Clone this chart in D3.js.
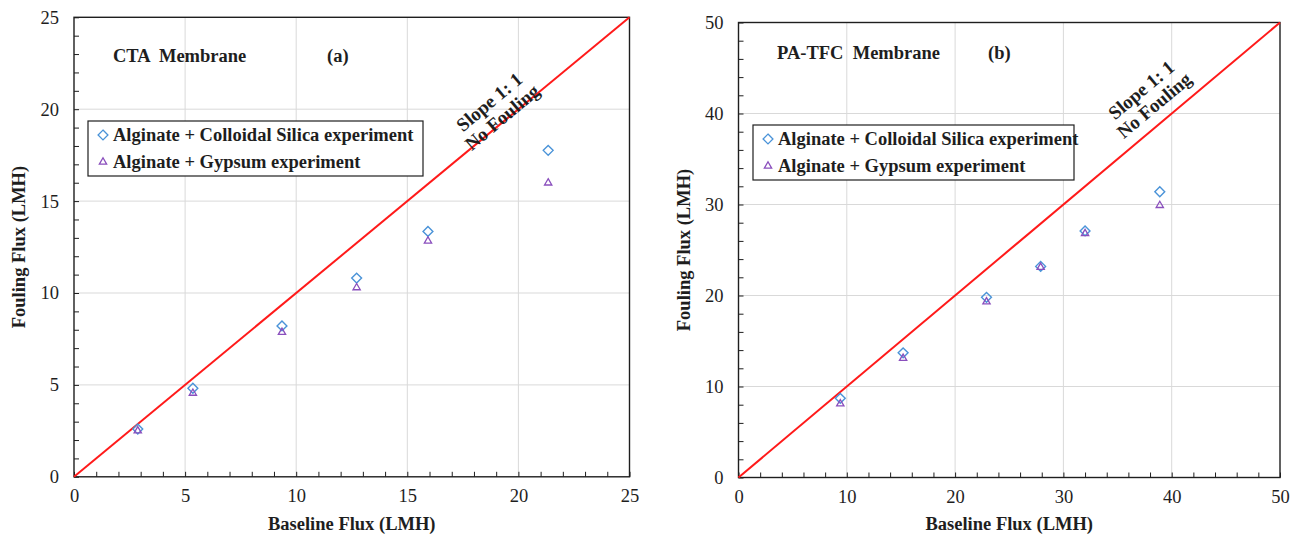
<!DOCTYPE html>
<html>
<head>
<meta charset="utf-8">
<script src="https://cdn.jsdelivr.net/npm/d3@7"></script>
<style>
  body { margin: 0; background: #fff; }
  svg, svg text { font-family: "Liberation Serif", "Times New Roman", serif; }
</style>
</head>
<body>
<svg></svg>
<script>
// panel (a) CTA membrane
const ctaBaseline = [2.87, 5.35, 9.36, 12.72, 15.93, 21.34];
const ctaSilica   = [2.60, 4.82, 8.21, 10.81, 13.35, 17.76];
const ctaGypsum   = [2.50, 4.55, 7.86, 10.29, 12.83, 15.99];

// panel (b) PA-TFC membrane
const tfcBaseline = [9.4, 15.2, 22.9, 27.9, 32.0, 38.9];
const tfcSilica   = [8.7, 13.7, 19.8, 23.2, 27.1, 31.4];
const tfcGypsum   = [8.1, 13.1, 19.3, 23.1, 26.8, 29.9];

const ctaTicks = [0, 5, 10, 15, 20, 25];
const tfcTicks = [0, 10, 20, 30, 40, 50];

const seriesNames = ['Alginate + Colloidal Silica experiment', 'Alginate + Gypsum experiment'];

const W = 1295, H = 538;
const blue = '#4a93d8';
const purple = '#8a4fbd';
const ink = '#1e1e1e';

const svg = d3.select('svg')
    .attr('width', W)
    .attr('height', H);

svg.append('rect').attr('width', W).attr('height', H).attr('fill', '#fff');

const diamond = d3.symbol().type(d3.symbolDiamond2).size(62);
const triangle = d3.symbol().type(d3.symbolTriangle2).size(38);

function drawPanel(p) {
  const x = d3.scaleLinear().domain([0, p.max]).range([p.left, p.right]);
  const y = d3.scaleLinear().domain([0, p.max]).range([p.bottom, p.top]);
  const g = svg.append('g');

  // grid
  g.selectAll('line.vgrid').data(p.ticks.slice(1, -1)).join('line')
      .attr('x1', d => x(d)).attr('x2', d => x(d))
      .attr('y1', p.top).attr('y2', p.bottom)
      .attr('stroke', '#d9d9d9').attr('stroke-width', 1);
  g.selectAll('line.hgrid').data(p.ticks.slice(1, -1)).join('line')
      .attr('y1', d => y(d)).attr('y2', d => y(d))
      .attr('x1', p.left).attr('x2', p.right)
      .attr('stroke', '#d9d9d9').attr('stroke-width', 1);

  // axes with inward ticks, minor ones unlabelled
  const minor = d3.range(0, p.max + 0.001, p.minor);
  const xAxis = d3.axisBottom(x).tickValues(minor).tickSizeInner(-5).tickSizeOuter(0)
      .tickFormat(d => p.ticks.includes(d) ? d : '').tickPadding(12);
  const yAxis = d3.axisLeft(y).tickValues(minor).tickSizeInner(-5).tickSizeOuter(0)
      .tickFormat(d => p.ticks.includes(d) ? d : '').tickPadding(15);

  const gx = g.append('g').attr('transform', `translate(0,${p.bottom})`).call(xAxis);
  const gy = g.append('g').attr('transform', `translate(${p.left},0)`).call(yAxis);
  [gx, gy].forEach(a => {
    a.attr('font-family', null).attr('font-size', null);
    a.select('.domain').remove();
    a.selectAll('line').attr('stroke', ink);
    a.selectAll('text')
        .style('font-family', '"Liberation Serif", serif')
        .style('font-size', '18.5px')
        .attr('fill', ink);
  });

  // frame
  g.append('rect')
      .attr('x', p.left).attr('y', p.top)
      .attr('width', p.right - p.left).attr('height', p.bottom - p.top)
      .attr('fill', 'none').attr('stroke', ink).attr('stroke-width', 1.4);

  // 1:1 line
  g.append('line')
      .attr('x1', x(0)).attr('y1', y(0))
      .attr('x2', x(p.max)).attr('y2', y(p.max))
      .attr('stroke', '#ff1a1a').attr('stroke-width', 2);

  // markers
  g.selectAll('path.silica').data(p.bx).join('path')
      .attr('d', diamond)
      .attr('transform', (d, i) => `translate(${x(d)},${y(p.silica[i])})`)
      .attr('fill', 'none').attr('stroke', blue).attr('stroke-width', 1.4);
  g.selectAll('path.gypsum').data(p.bx).join('path')
      .attr('d', triangle)
      .attr('transform', (d, i) => `translate(${x(d)},${y(p.gypsum[i])})`)
      .attr('fill', 'none').attr('stroke', purple).attr('stroke-width', 1.3);

  // axis titles
  g.append('text')
      .attr('x', (p.left + p.right) / 2).attr('y', 530)
      .attr('text-anchor', 'middle').attr('font-weight', 'bold').attr('font-size', 18.5)
      .attr('fill', ink)
      .text('Baseline Flux (LMH)');
  g.append('text')
      .attr('transform', `translate(${p.left - 49},${(p.top + p.bottom) / 2}) rotate(-90)`)
      .attr('text-anchor', 'middle').attr('font-weight', 'bold').attr('font-size', 18.5)
      .attr('fill', ink)
      .text('Fouling Flux (LMH)');

  // panel labels
  g.append('text').attr('x', p.nameX).attr('y', p.labelY)
      .attr('font-weight', 'bold').attr('font-size', 18.5).attr('fill', ink)
      .attr('xml:space', 'preserve')
      .text(p.name);
  g.append('text').attr('x', p.tagX).attr('y', p.labelY)
      .attr('font-weight', 'bold').attr('font-size', 18.5).attr('fill', ink)
      .text(p.tag);

  // slope annotation
  const ann = g.append('g')
      .attr('transform', `translate(${p.annX},${p.annY}) rotate(-40)`)
      .attr('font-weight', 'bold').attr('font-size', 19).attr('fill', ink)
      .attr('text-anchor', 'middle');
  ann.append('text').attr('y', -4).text('Slope 1: 1');
  ann.append('text').attr('y', 16).text('No Fouling');

  // legend
  const lg = g.append('g');
  lg.append('rect')
      .attr('x', p.legX).attr('y', p.legY)
      .attr('width', p.legW).attr('height', 55)
      .attr('fill', '#fff').attr('stroke', ink).attr('stroke-width', 1.2);
  const rows = [diamond, triangle];
  const cols = [blue, purple];
  seriesNames.forEach((name, i) => {
    const cy = p.legY + 14 + i * 27;
    lg.append('path').attr('d', rows[i])
        .attr('transform', `translate(${p.legX + 15},${cy})`)
        .attr('fill', 'none').attr('stroke', cols[i]).attr('stroke-width', 1.3);
    lg.append('text')
        .attr('x', p.legX + 25).attr('y', cy + 6)
        .attr('font-weight', 'bold').attr('font-size', 18.5).attr('fill', ink)
        .text(name);
  });
}

drawPanel({
  max: 25, ticks: ctaTicks, minor: 1,
  left: 74, right: 629.5, top: 17.3, bottom: 476.8,
  bx: ctaBaseline, silica: ctaSilica, gypsum: ctaGypsum,
  name: 'CTA  Membrane', nameX: 113, tag: '(a)', tagX: 327, labelY: 62,
  annX: 496, annY: 110,
  legX: 88, legY: 121, legW: 335
});

drawPanel({
  max: 50, ticks: tfcTicks, minor: 2,
  left: 738.5, right: 1280, top: 22.5, bottom: 477.5,
  bx: tfcBaseline, silica: tfcSilica, gypsum: tfcGypsum,
  name: 'PA-TFC  Membrane', nameX: 777, tag: '(b)', tagX: 988, labelY: 59,
  annX: 1148, annY: 98,
  legX: 753, legY: 125, legW: 321
});
</script>
</body>
</html>
